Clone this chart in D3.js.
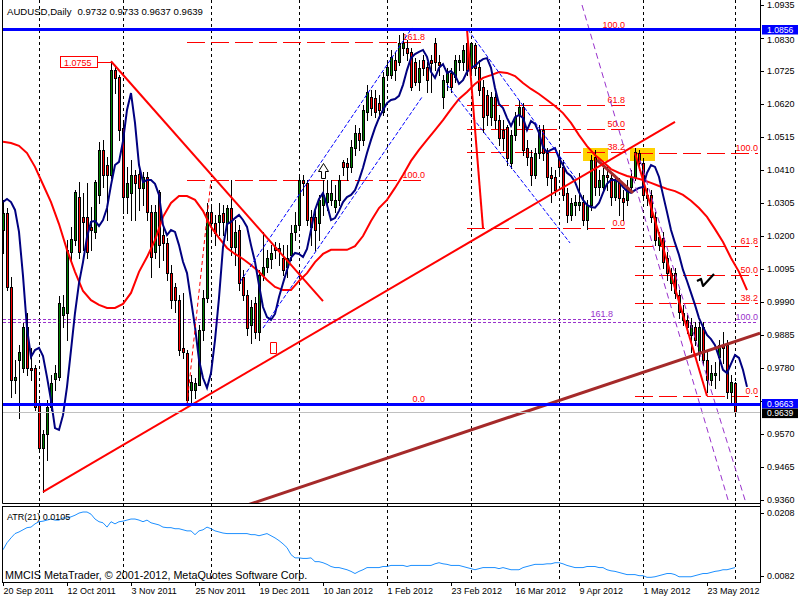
<!DOCTYPE html>
<html><head><meta charset="utf-8">
<script src="https://cdn.jsdelivr.net/npm/d3@7/dist/d3.min.js"></script>
<style>
html,body{margin:0;padding:0;background:#fff;}
svg{display:block;font-family:"Liberation Sans",Arial,Helvetica,sans-serif;}
</style></head><body>
<svg id="chart" width="800" height="600"></svg>
<script>
// ---------------- DATA ----------------
const symbol = "AUDUSD,Daily";
const lastQuote = [0.9732, 0.9733, 0.9637, 0.9639];
const startDate = new Date(2011, 8, 20); // first bar, weekdays only

const open = [1.0218,1.0272,1.0037,0.9741,0.9805,0.9780,0.9910,0.9780,0.9780,0.9661,
0.9525,0.9569,0.9655,0.9744,0.9750,0.9948,0.9954,1.0149,1.0186,1.0323,
1.0260,1.0260,1.0228,1.0212,1.0330,1.0473,1.0425,1.0393,1.0727,1.0705,
1.0543,1.0323,1.0336,1.0393,1.0396,1.0352,1.0387,1.0275,1.0149,1.0339,
1.0202,1.0177,1.0081,1.0037,0.9995,0.9843,0.9826,0.9709,0.9709,0.9725,
0.9900,1.0002,1.0275,1.0240,1.0244,1.0272,1.0240,1.0289,1.0164,1.0218,
1.0069,1.0011,0.9916,0.9986,0.9894,1.0075,1.0100,1.0126,1.0164,1.0161,
1.0130,1.0100,1.0139,1.0212,1.0234,1.0377,1.0368,1.0260,1.0260,1.0240,
1.0298,1.0307,1.0314,1.0291,1.0314,1.0435,1.0431,1.0419,1.0479,1.0527,
1.0505,1.0594,1.0641,1.0638,1.0622,1.0594,1.0711,1.0711,1.0759,1.0753,
1.0797,1.0797,1.0785,1.0753,1.0689,1.0759,1.0737,1.0759,1.0813,1.0753,
1.0641,1.0689,1.0718,1.0705,1.0753,1.0753,1.0813,1.0734,1.0807,1.0737,
1.0673,1.0648,1.0577,1.0641,1.0568,1.0536,1.0546,1.0431,1.0520,1.0584,
1.0609,1.0479,1.0450,1.0393,1.0463,1.0536,1.0463,1.0393,1.0387,1.0450,
1.0419,1.0336,1.0266,1.0298,1.0298,1.0307,1.0250,1.0298,1.0450,1.0355,
1.0355,1.0393,1.0384,1.0323,1.0371,1.0320,1.0314,1.0355,1.0387,1.0463,
1.0431,1.0330,1.0330,1.0260,1.0170,1.0193,1.0130,1.0049,1.0081,1.0011,
0.9954,0.9932,0.9884,0.9910,0.9830,0.9910,0.9805,0.9741,0.9757,0.9814,
0.9852,0.9852,0.9703,0.9732];
const high = [1.0314,1.0289,1.0069,0.9805,0.9852,0.9922,0.9954,0.9843,0.9789,0.9677,
0.9582,0.9677,0.9757,0.9789,1.0008,1.0011,1.0186,1.0228,1.0345,1.0371,
1.0336,1.0368,1.0291,1.0377,1.0499,1.0505,1.0450,1.0755,1.0740,1.0711,
1.0568,1.0419,1.0441,1.0409,1.0409,1.0403,1.0403,1.0298,1.0298,1.0345,
1.0234,1.0193,1.0107,1.0049,1.0011,1.0018,0.9836,0.9757,0.9747,0.9916,
1.0027,1.0304,1.0298,1.0266,1.0304,1.0298,1.0298,1.0377,1.0250,1.0234,
1.0091,1.0027,0.9995,1.0005,1.0091,1.0212,1.0155,1.0170,1.0180,1.0177,
1.0170,1.0170,1.0234,1.0275,1.0387,1.0393,1.0377,1.0282,1.0282,1.0330,
1.0377,1.0377,1.0377,1.0361,1.0393,1.0441,1.0447,1.0505,1.0552,1.0543,
1.0616,1.0680,1.0664,1.0664,1.0648,1.0721,1.0759,1.0791,1.0785,1.0839,
1.0845,1.0823,1.0797,1.0766,1.0759,1.0775,1.0753,1.0775,1.0829,1.0775,
1.0711,1.0734,1.0734,1.0775,1.0775,1.0807,1.0856,1.0816,1.0813,1.0759,
1.0695,1.0664,1.0657,1.0654,1.0584,1.0568,1.0552,1.0536,1.0594,1.0632,
1.0622,1.0505,1.0473,1.0479,1.0552,1.0552,1.0479,1.0419,1.0409,1.0473,
1.0441,1.0352,1.0320,1.0330,1.0400,1.0330,1.0314,1.0457,1.0473,1.0409,
1.0416,1.0419,1.0403,1.0393,1.0384,1.0345,1.0377,1.0409,1.0479,1.0473,
1.0447,1.0352,1.0345,1.0275,1.0212,1.0212,1.0149,1.0097,1.0097,1.0027,
0.9980,0.9948,0.9938,0.9926,0.9926,0.9926,0.9836,0.9789,0.9798,0.9868,
0.9894,0.9868,0.9757,0.9733];
const low = [1.0145,1.0027,0.9687,0.9699,0.9620,0.9767,0.9757,0.9741,0.9645,0.9512,
0.9385,0.9486,0.9645,0.9709,0.9741,0.9910,0.9868,1.0123,1.0170,1.0130,
1.0155,1.0130,1.0155,1.0193,1.0304,1.0355,1.0250,1.0384,1.0654,1.0505,
1.0272,1.0272,1.0250,1.0250,1.0282,1.0298,1.0250,1.0069,1.0130,1.0100,
1.0123,1.0059,0.9970,0.9957,0.9820,0.9811,0.9664,0.9668,0.9684,0.9725,
0.9868,0.9989,1.0202,1.0170,1.0202,1.0202,1.0186,1.0139,1.0107,1.0027,
0.9995,0.9884,0.9859,0.9875,0.9868,1.0059,1.0085,1.0097,1.0130,1.0107,
1.0075,1.0069,1.0123,1.0186,1.0225,1.0330,1.0234,1.0170,1.0155,1.0186,
1.0266,1.0282,1.0298,1.0275,1.0298,1.0393,1.0377,1.0403,1.0457,1.0473,
1.0489,1.0568,1.0584,1.0577,1.0575,1.0584,1.0695,1.0702,1.0695,1.0743,
1.0775,1.0759,1.0664,1.0680,1.0664,1.0711,1.0657,1.0657,1.0727,1.0711,
1.0606,1.0664,1.0657,1.0689,1.0727,1.0727,1.0711,1.0711,1.0711,1.0648,
1.0530,1.0552,1.0552,1.0543,1.0489,1.0473,1.0425,1.0416,1.0505,1.0552,
1.0457,1.0425,1.0361,1.0384,1.0447,1.0441,1.0361,1.0307,1.0330,1.0393,
1.0314,1.0244,1.0250,1.0266,1.0282,1.0234,1.0221,1.0282,1.0330,1.0330,
1.0339,1.0345,1.0298,1.0314,1.0266,1.0250,1.0298,1.0339,1.0377,1.0409,
1.0314,1.0298,1.0244,1.0170,1.0155,1.0097,1.0059,1.0027,1.0002,0.9938,
0.9916,0.9890,0.9830,0.9852,0.9805,0.9789,0.9703,0.9725,0.9716,0.9741,
0.9795,0.9684,0.9668,0.9637];
const close = [1.0272,1.0037,0.9741,0.9751,0.9830,0.9910,0.9780,0.9773,0.9655,0.9525,
0.9569,0.9655,0.9731,0.9763,0.9986,0.9973,1.0155,1.0189,1.0339,1.0149,
1.0244,1.0149,1.0218,1.0371,1.0473,1.0393,1.0393,1.0727,1.0702,1.0536,
1.0323,1.0368,1.0393,1.0368,1.0352,1.0387,1.0275,1.0132,1.0275,1.0170,
1.0177,1.0081,0.9995,0.9995,0.9836,0.9830,0.9677,0.9734,0.9731,0.9900,
1.0002,1.0275,1.0240,1.0209,1.0266,1.0244,1.0289,1.0164,1.0212,1.0049,
1.0011,0.9906,0.9973,0.9894,1.0075,1.0100,1.0130,1.0145,1.0155,1.0152,
1.0091,1.0130,1.0209,1.0234,1.0377,1.0368,1.0250,1.0228,1.0218,1.0314,
1.0330,1.0336,1.0336,1.0314,1.0377,1.0419,1.0419,1.0482,1.0527,1.0505,
1.0600,1.0657,1.0606,1.0594,1.0600,1.0705,1.0737,1.0769,1.0727,1.0813,
1.0813,1.0781,1.0673,1.0689,1.0734,1.0734,1.0695,1.0750,1.0753,1.0743,
1.0695,1.0718,1.0673,1.0759,1.0759,1.0791,1.0727,1.0813,1.0734,1.0664,
1.0577,1.0584,1.0641,1.0568,1.0511,1.0511,1.0447,1.0520,1.0577,1.0609,
1.0473,1.0450,1.0393,1.0463,1.0536,1.0463,1.0387,1.0384,1.0345,1.0419,
1.0330,1.0266,1.0304,1.0307,1.0307,1.0250,1.0298,1.0441,1.0355,1.0377,
1.0393,1.0387,1.0323,1.0377,1.0320,1.0307,1.0355,1.0387,1.0466,1.0431,
1.0330,1.0320,1.0260,1.0186,1.0196,1.0117,1.0081,1.0081,1.0018,0.9957,
0.9932,0.9910,0.9916,0.9868,0.9910,0.9805,0.9741,0.9763,0.9763,0.9852,
0.9843,0.9703,0.9734,0.9639];

// fast (navy) moving average, one value per bar (shifted, runs 3 bars past the last bar)
const maFast = [1.0307,1.0317,1.0307,1.0282,1.0212,1.0072,0.9906,0.9814,0.9836,0.9843,
0.9817,0.9750,0.9677,0.9588,0.9582,0.9629,0.9719,0.9836,0.9954,1.0049,
1.0116,1.0196,1.0244,1.0247,1.0231,1.0250,1.0288,1.0361,1.0425,1.0435,
1.0501,1.0600,1.0654,1.0559,1.0425,1.0371,1.0377,1.0377,1.0365,1.0330,
1.0234,1.0202,1.0218,1.0212,1.0170,1.0117,1.0081,0.9995,0.9910,0.9805,
0.9747,0.9716,0.9763,0.9868,1.0002,1.0164,1.0237,1.0244,1.0256,1.0266,
1.0250,1.0228,1.0170,1.0117,1.0043,0.9973,0.9941,0.9932,0.9951,1.0005,
1.0049,1.0091,1.0130,1.0145,1.0142,1.0132,1.0158,1.0218,1.0282,1.0317,
1.0336,1.0298,1.0250,1.0256,1.0279,1.0307,1.0323,1.0330,1.0345,1.0377,
1.0416,1.0463,1.0505,1.0543,1.0575,1.0600,1.0622,1.0632,1.0635,1.0645,
1.0680,1.0727,1.0765,1.0778,1.0785,1.0791,1.0769,1.0721,1.0702,1.0734,
1.0746,1.0718,1.0724,1.0711,1.0683,1.0695,1.0721,1.0734,1.0740,1.0753,
1.0762,1.0765,1.0734,1.0670,1.0619,1.0606,1.0575,1.0549,1.0577,1.0584,
1.0575,1.0536,1.0565,1.0556,1.0527,1.0482,1.0466,1.0473,1.0479,1.0447,
1.0425,1.0400,1.0390,1.0371,1.0339,1.0314,1.0298,1.0291,1.0289,1.0304,
1.0336,1.0365,1.0377,1.0377,1.0371,1.0355,1.0342,1.0336,1.0345,1.0352,
1.0355,1.0400,1.0425,1.0419,1.0387,1.0330,1.0275,1.0218,1.0177,1.0139,
1.0091,1.0056,1.0018,0.9980,0.9938,0.9910,0.9884,0.9871,0.9852,0.9814,
0.9773,0.9763,0.9792,0.9820,0.9811,0.9773,0.9719];

// slow (red) moving average, read every 2nd bar (bars 0,2,4,...,186)
const maSlow = [1.0499,1.0495,1.0486,1.0463,1.0419,1.0363,1.0307,1.0237,1.0155,1.0085,
1.0024,0.9995,0.9980,0.9970,0.9970,0.9983,1.0018,1.0085,1.0132,1.0186,
1.0260,1.0304,1.0326,1.0326,1.0314,1.0279,1.0228,1.0193,1.0161,1.0142,
1.0126,1.0107,1.0085,1.0059,1.0037,1.0027,1.0027,1.0056,1.0081,1.0116,
1.0142,1.0155,1.0155,1.0155,1.0167,1.0199,1.0247,1.0288,1.0314,1.0352,
1.0393,1.0438,1.0473,1.0505,1.0536,1.0568,1.0603,1.0635,1.0657,1.0683,
1.0702,1.0711,1.0721,1.0718,1.0708,1.0686,1.0667,1.0651,1.0632,1.0613,
1.0590,1.0559,1.0520,1.0485,1.0457,1.0435,1.0412,1.0400,1.0390,1.0384,
1.0377,1.0368,1.0358,1.0349,1.0342,1.0330,1.0311,1.0288,1.0260,1.0221,
1.0180,1.0129,1.0085,1.0027];

// ATR(21), one value per bar
const atr = [.0138,.0151,.0160,.0168,.0171,.0175,.0179,.0180,.0186,.0190,
.0191,.0193,.0195,.0193,.0193,.0197,.0197,.0199,.0202,.0206,
.0208,.0208,.0204,.0195,.0190,.0188,.0180,.0190,.0186,.0190,
.0191,.0193,.0195,.0195,.0193,.0190,.0193,.0188,.0186,.0184,
.0180,.0179,.0179,.0177,.0177,.0175,.0173,.0173,.0166,.0173,
.0175,.0180,.0177,.0173,.0171,.0169,.0168,.0168,.0168,.0168,
.0168,.0168,.0166,.0166,.0164,.0166,.0168,.0164,.0160,.0155,
.0149,.0142,.0129,.0123,.0123,.0122,.0122,.0123,.0116,.0116,
.0114,.0111,.0107,.0105,.0105,.0103,.0101,.0098,.0094,.0098,
.0101,.0105,.0105,.0105,.0105,.0107,.0107,.0109,.0109,.0109,
.0109,.0107,.0109,.0109,.0109,.0109,.0109,.0109,.0112,.0114,
.0112,.0111,.0109,.0109,.0109,.0107,.0105,.0103,.0101,.0103,
.0105,.0105,.0105,.0105,.0103,.0105,.0103,.0101,.0101,.0101,
.0105,.0107,.0109,.0111,.0111,.0111,.0112,.0112,.0114,.0114,
.0112,.0109,.0107,.0105,.0105,.0105,.0107,.0107,.0107,.0105,
.0105,.0101,.0099,.0098,.0096,.0094,.0092,.0092,.0092,.0090,
.0090,.0087,.0087,.0088,.0090,.0092,.0094,.0094,.0092,.0088,
.0088,.0088,.0088,.0090,.0092,.0094,.0094,.0096,.0098,.0099,
.0101,.0101,.0103,.0105];

const priceTicks = [1.0935,1.0830,1.0725,1.0620,1.0515,1.0410,1.0305,1.0200,1.0095,0.9990,0.9885,0.9780,0.9675,0.9570,0.9465,0.9360];
const atrTicks = [0.0208, 0.0082];
const atrLabel = "ATR(21) 0.0105";
const copyright = "MMCIS MetaTrader, \u00A9 2001-2012, MetaQuotes Software Corp.";

// horizontal lines with price tags
const hLinePrices = [1.0856, 0.9663];
const bidPrice = 0.9639;

// drawn objects: [bar1, price1, bar2, price2]
const redTrend = [[27,1.0755,80,0.9992],[10,0.9385,168,1.0562],[116,1.0856,120,1.0224],[158,1.0463,176,0.9690]];
const redDashTrend = [[46,0.9664,52,1.0377]];
const brownTrend = [[58,0.9330,189.25,0.9890],[148.5,1.0441,157.5,1.0336]];
const blueChannel = [[59.25,1.0053,102.25,1.0861],[65,0.9906,104.75,1.0641],[116.25,1.0855,143.5,1.0377],[111,1.0680,141.75,1.0177]];
const purpleChannel = [[144.75,1.0934,181.5,0.9349],[159.25,1.0441,185.75,0.9349]];

// Fibonacci objects: from bar, to bar, price at 0%, price at 100%, levels
const fibStart = [46, 116, 158];
const fibEnd = [105.5, 155.5, 188.75];
const fibZero = [0.9664, 1.0224, 0.9690];
const fibFull = [1.0377, 1.0856, 1.0463];
const fibLevels = [[0,100,161.8],[0,38.2,50,61.8,100],[0,38.2,50,61.8,100]];

// purple expansion levels
const purpleLevelNames = ["161.8","100.0"];
const purpleLevelPrices = [0.9935, 0.9925];
const purpleLevelEnd = [152.5, 188.75];

// yellow rectangles: [bar1, bar2, priceTop, priceBottom]
const yellowRects = [[145,151.25,1.0479,1.0438],[156.75,163,1.0479,1.0438]];

// marks
const priceTag = {bar:27, price:1.0755, text:"1.0755"};
const upArrow = {bar:80, price:1.0431};
const redMark = {bar:67.5, price:0.9862};
const checkMark = {bar:175.5, price:1.0078};

// ---------------- CHART ----------------
const N = open.length;
const dates = [];
for (let d = new Date(startDate); dates.length < N; d.setDate(d.getDate()+1)) {
  const w = d.getDay(); if (w > 0 && w < 6) dates.push(new Date(d));
}
const fmtDate = d3.timeFormat("%-d %b %Y");

const svg = d3.select("#chart");
const x = d3.scaleLinear().domain([0, N-1]).range([3, 735]);
const y = d3.scaleLinear().domain([priceTicks[priceTicks.length-1], priceTicks[0]]).range([499.7, 4.7]);
const ay = d3.scaleLinear().domain([0.0082, 0.0208]).range([580, 512]);
const xr = x.copy().interpolate(d3.interpolateRound);
const yr = y.copy().interpolate(d3.interpolateRound);
const ayr = ay.copy().interpolate(d3.interpolateRound);

const FONT = 9;
svg.append("rect").attr("width",800).attr("height",600).attr("fill","#fff");
const defs = svg.append("defs");
defs.append("clipPath").attr("id","clipMain").append("rect").attr("x",3).attr("y",0).attr("width",757).attr("height",503);
defs.append("clipPath").attr("id","clipAtr").append("rect").attr("x",3).attr("y",507).attr("width",757).attr("height",75);

// period separators (first bar of each month)
const seps = d3.range(1, N).filter(i => dates[i].getMonth() !== dates[i-1].getMonth());
svg.append("g").selectAll("line").data(seps).join("line")
  .attr("x1", i => xr(i)+0.5).attr("x2", i => xr(i)+0.5)
  .attr("y1", 0).attr("y2", 582)
  .attr("stroke","#000").attr("stroke-width",1).attr("stroke-dasharray","3,3");

const main = svg.append("g").attr("clip-path","url(#clipMain)");

// yellow rectangles
main.append("g").selectAll("rect").data(yellowRects).join("rect")
  .attr("x", d => xr(d[0])).attr("width", d => xr(d[1]) - xr(d[0]))
  .attr("y", d => yr(d[2])).attr("height", d => yr(d[3]) - yr(d[2]))
  .attr("fill","#ffd200");

// purple expansion levels
purpleLevelPrices.forEach((p, k) => {
  const yy = yr(p) + 0.5;
  main.append("line").attr("x1",3).attr("x2",xr(purpleLevelEnd[k])).attr("y1",yy).attr("y2",yy)
    .attr("stroke","#9932cc").attr("stroke-dasharray","3,2");
  main.append("text").attr("x", xr(purpleLevelEnd[k])).attr("y", yy - 3)
    .attr("text-anchor","end").attr("font-size",FONT).attr("fill","#9932cc").text(purpleLevelNames[k]);
});

// fibonacci levels
fibStart.forEach((s, k) => {
  fibLevels[k].forEach(lv => {
    const p = fibZero[k] + (fibFull[k]-fibZero[k]) * lv / 100;
    const yy = yr(p) + 0.5;
    main.append("line").attr("x1", xr(s)).attr("x2", xr(fibEnd[k])).attr("y1",yy).attr("y2",yy)
      .attr("stroke","#ff0000").attr("stroke-dasharray","18,6");
    main.append("text").attr("x", xr(fibEnd[k])).attr("y", yy - 3)
      .attr("text-anchor","end").attr("font-size",FONT).attr("fill","#ff0000").text(lv.toFixed(1));
  });
});

// candles
const cg = main.append("g");
d3.range(N).forEach(i => {
  const cx = xr(i);
  const yh = yr(high[i]), yl = yr(low[i]);
  const yo = yr(open[i]), yc = yr(close[i]);
  const top = Math.min(yo, yc), bot = Math.max(yo, yc);
  cg.append("rect").attr("x",cx).attr("y",yh).attr("width",1).attr("height",yl-yh+1).attr("fill","#000");
  cg.append("rect").attr("x",cx-1).attr("y",top).attr("width",3).attr("height",Math.max(1,bot-top+1)).attr("fill","#000");
  if (bot - top >= 2) {
    cg.append("rect").attr("x",cx).attr("y",top+1).attr("width",1).attr("height",bot-top-1)
      .attr("fill", close[i] > open[i] ? "#008000" : "#ff0000");
  }
});

// moving averages
const line = d3.line().x(d => x(d[0])).y(d => y(d[1]));
main.append("path").datum(maSlow.map((v,k) => [k*2, v])).attr("d", line)
  .attr("fill","none").attr("stroke","#ff0000").attr("stroke-width",2);
main.append("path").datum(maFast.map((v,k) => [k, v])).attr("d", line)
  .attr("fill","none").attr("stroke","#000080").attr("stroke-width",2);

// drawn trend lines
function seg(arr, color, width, dash) {
  main.append("g").selectAll("line").data(arr).join("line")
    .attr("x1", d => x(d[0])).attr("y1", d => y(d[1]))
    .attr("x2", d => x(d[2])).attr("y2", d => y(d[3]))
    .attr("stroke", color).attr("stroke-width", width)
    .attr("stroke-dasharray", dash || null);
}
seg(purpleChannel, "#9932cc", 1, "6,4");
seg(blueChannel, "#0000ff", 1, "4,2");
seg(brownTrend, "#a52a2a", 3);
seg(redTrend, "#ff0000", 2);
seg(redDashTrend, "#ff0000", 1, "4,3");

// horizontal lines
main.append("line").attr("x1",3).attr("x2",760).attr("y1",yr(bidPrice)+0.5).attr("y2",yr(bidPrice)+0.5)
  .attr("stroke","#c0c0c0");
main.append("g").selectAll("line").data(hLinePrices).join("line")
  .attr("x1",3).attr("x2",760).attr("y1", p => y(p)).attr("y2", p => y(p))
  .attr("stroke","#0000ff").attr("stroke-width",3);

// price tag 1.0755
{
  const ax = xr(priceTag.bar), yy = yr(priceTag.price) + 1;
  main.append("rect").attr("x", ax-50.5).attr("y", yy-5.5).attr("width",37).attr("height",11)
    .attr("fill","#fff").attr("stroke","#ff0000");
  main.append("line").attr("x1", ax-13.5).attr("x2", ax).attr("y1", yy+0.5).attr("y2", yy+0.5).attr("stroke","#ff0000");
  main.append("text").attr("x", ax-47).attr("y", yy+4).attr("font-size",FONT).attr("fill","#ff0000").text(priceTag.text);
}
// up arrow
{
  const ax = xr(upArrow.bar)+0.5, yy = yr(upArrow.price)+0.5;
  main.append("path").attr("d", `M${ax},${yy} L${ax+5},${yy+8} L${ax+2},${yy+8} L${ax+2},${yy+15} L${ax-2},${yy+15} L${ax-2},${yy+8} L${ax-5},${yy+8} Z`)
    .attr("fill","#fff").attr("stroke","#000");
}
// red mark
{
  const ax = xr(redMark.bar)+0.5, yy = yr(redMark.price)+0.5;
  main.append("path").attr("d", `M${ax-3},${yy} L${ax+3},${yy} L${ax+3},${yy+11} L${ax-3},${yy+11} Z`)
    .attr("fill","#fff").attr("stroke","#ff0000");
}
// check mark
{
  const ax = xr(checkMark.bar), yy = yr(checkMark.price);
  main.append("path").attr("d", `M${ax-8},${yy+7} L${ax-4},${yy+5} L${ax-2},${yy+12} L${ax+9},${yy}`)
    .attr("fill","none").attr("stroke","#000").attr("stroke-width",2.2).attr("stroke-linejoin","round");
}

// ATR panel
const atrG = svg.append("g").attr("clip-path","url(#clipAtr)");
atrG.append("path").datum(atr.map((v,k) => [k, v]))
  .attr("d", d3.line().x(d => x(d[0])).y(d => ay(d[1])))
  .attr("fill","none").attr("stroke","#1e90ff").attr("stroke-width",1);

// frames
svg.append("line").attr("x1",2.5).attr("x2",2.5).attr("y1",0).attr("y2",503.5).attr("stroke","#000");
svg.append("line").attr("x1",2.5).attr("x2",760.5).attr("y1",503.5).attr("y2",503.5).attr("stroke","#000");
svg.append("rect").attr("x",2.5).attr("y",506.5).attr("width",758).attr("height",76)
  .attr("fill","none").attr("stroke","#000");
svg.append("line").attr("x1",760.5).attr("x2",760.5).attr("y1",0).attr("y2",582.5).attr("stroke","#000");

// price axis
const boxPrices = hLinePrices.concat([bidPrice]);
const pAxis = svg.append("g").attr("transform","translate(760,0)")
  .call(d3.axisRight(yr).tickValues(priceTicks).tickFormat(d3.format(".4f")).tickSize(4).tickSizeOuter(0).tickPadding(3));
pAxis.select(".domain").remove();
pAxis.selectAll("text").attr("font-size",FONT).attr("font-family",null).attr("fill","#000");
// labels hidden behind the price boxes, as in the terminal
pAxis.selectAll(".tick").filter(t => boxPrices.some(b => Math.abs(yr(b) - yr(t)) < 5)).select("text").remove();
pAxis.selectAll(".tick").filter(t => boxPrices.some(b => { const d = yr(t) - yr(b); return d >= 5 && d < 12; }))
  .select("text").attr("dy","0.32em").attr("y", 2);

// ATR axis
const aAxis = svg.append("g").attr("transform","translate(760,0)")
  .call(d3.axisRight(ayr).tickValues(atrTicks).tickFormat(d3.format(".4f")).tickSize(4).tickSizeOuter(0).tickPadding(3));
aAxis.select(".domain").remove();
aAxis.selectAll("text").attr("font-size",FONT).attr("font-family",null).attr("fill","#000");
aAxis.selectAll(".tick").filter(d => d === atrTicks[1]).attr("transform", d => `translate(0,${ayr(d)-4+0.5})`);
aAxis.selectAll(".tick").filter(d => d === atrTicks[0]).attr("transform", d => `translate(0,${ayr(d)+1+0.5})`);

// date axis
const dAxis = svg.append("g").attr("transform","translate(0,582)")
  .call(d3.axisBottom(xr).tickValues(d3.range(0, N, 16)).tickFormat(i => fmtDate(dates[i])).tickSize(4).tickSizeOuter(0).tickPadding(2));
dAxis.select(".domain").remove();
dAxis.selectAll("text").attr("font-size",FONT).attr("font-family",null).attr("text-anchor","start").attr("fill","#000");

// right-axis price boxes
function priceBox(p, bg, top) {
  svg.append("rect").attr("x",762).attr("y",top).attr("width",36).attr("height",9.5).attr("fill",bg);
  svg.append("text").attr("x",767).attr("y",top+7.8).attr("font-size",8.6).attr("fill","#fff").text(p.toFixed(4));
}
hLinePrices.forEach(p => priceBox(p, "#0000ff", yr(p) - 5));
priceBox(bidPrice, "#000000", yr(hLinePrices[1]) + 4.6);

// texts
const title = svg.append("text").attr("x",7).attr("y",14.5).attr("font-size",9.6).attr("fill","#000");
title.append("tspan").text(symbol);
title.append("tspan").attr("dx",6).text(lastQuote.map(v => v.toFixed(4)).join(" "));
svg.append("text").attr("x",7).attr("y",520).attr("font-size",FONT).attr("fill","#000").text(atrLabel);
svg.append("text").attr("x",5).attr("y",579).attr("font-size",10.8).attr("fill","#000").text(copyright);
</script></body></html>
